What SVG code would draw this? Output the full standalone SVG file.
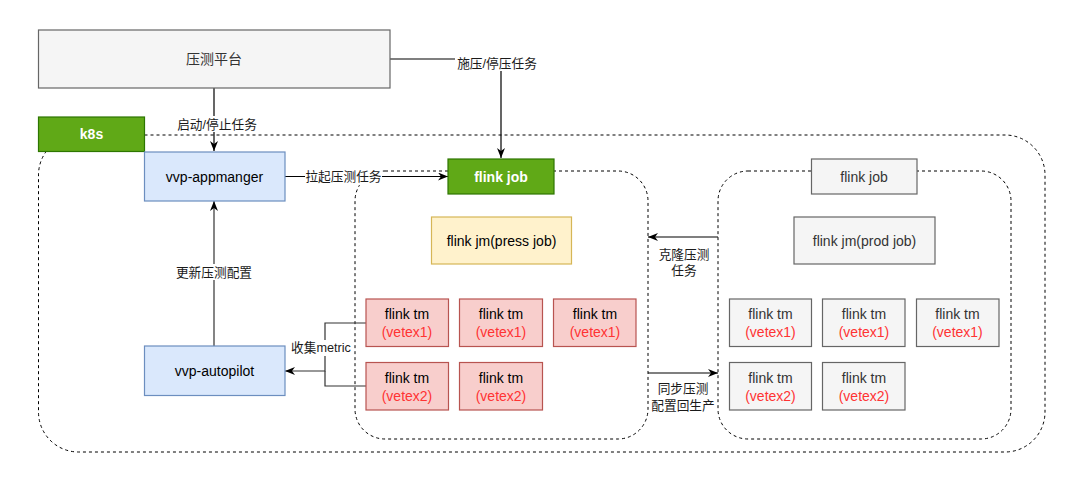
<svg xmlns="http://www.w3.org/2000/svg" width="1080" height="478" viewBox="0 0 1080 478">
<defs>
<style>
text{font-family:"Liberation Sans",Arial,"Noto Sans CJK SC",sans-serif;font-size:14px;text-anchor:middle;fill:#000}
.lbl{font-size:12.7px;fill:#1a1a1a}
.gray{fill:#f5f5f5;stroke:#666666;stroke-width:1.2}
.blue{fill:#dae8fc;stroke:#6c8ebf;stroke-width:1.2}
.green{fill:#60a917;stroke:#2d7600;stroke-width:1.2}
.yellow{fill:#fff2cc;stroke:#d6b656;stroke-width:1.2}
.red{fill:#f8cecc;stroke:#b85450;stroke-width:1.2}
.cont{fill:none;stroke:#000;stroke-width:1;stroke-dasharray:3 3}
.w{fill:#ffffff}
.b{font-weight:bold}
.r{fill:#ff3333}
.d{fill:#333333}
.edge{fill:none;stroke:#000;stroke-width:1.2}
.edge2{fill:none;stroke:#333;stroke-width:1.2}
</style>
<marker id="arr" viewBox="0 0 10 8" refX="10" refY="4" markerWidth="10" markerHeight="8" markerUnits="userSpaceOnUse" orient="auto">
<path d="M0,0 L10,4 L0,8 L3,4 z" fill="#000"/>
</marker>
</defs>
<rect width="1080" height="478" fill="#ffffff"/>

<g id="containers">
<rect id="k8s-container" class="cont" x="38.5" y="135" width="1006.5" height="317" rx="40"/>
<rect id="press-container" class="cont" x="355" y="171" width="293" height="268" rx="30"/>
<rect id="prod-container" class="cont" x="718" y="171" width="293" height="268" rx="30"/>
</g>

<g id="connectors">
<path class="edge" d="M214,88 V151" marker-end="url(#arr)"/>
<path class="edge" d="M390,59 H501 V158" marker-end="url(#arr)"/>
<path class="edge" d="M285,176.5 H448" marker-end="url(#arr)"/>
<path class="edge2" d="M214,346 V201" marker-end="url(#arr)"/>
<path class="edge2" d="M366,323 H325 V371 H285" marker-end="url(#arr)"/>
<path class="edge2" d="M366,386 H325 V371"/>
<path class="edge" d="M718,237 H648" marker-end="url(#arr)"/>
<path class="edge" d="M648,373 H718" marker-end="url(#arr)"/>
<rect class="w" x="175" y="116" width="84" height="16"/>
<text class="lbl" x="217" y="128.5">启动/停止任务</text>
<rect class="w" x="455" y="55" width="84" height="16"/>
<text class="lbl" x="497" y="67.5">施压/停压任务</text>
<rect class="w" x="305" y="169" width="77" height="16"/>
<text class="lbl" x="343.5" y="181">拉起压测任务</text>
<rect class="w" x="175" y="264" width="79" height="16"/>
<text class="lbl" x="214" y="276.5">更新压测配置</text>
<rect class="w" x="291" y="340" width="61" height="16"/>
<text class="lbl" x="321" y="352">收集metric</text>
<text class="lbl" x="684" y="258.5">克隆压测</text>
<text class="lbl" x="684" y="274.5">任务</text>
<text class="lbl" x="683" y="392.5">同步压测</text>
<text class="lbl" x="683" y="409.5">配置回生产</text>
</g>

<g id="press-platform"><rect class="gray" x="38.5" y="30" width="351.5" height="58"/><text class="d" x="214" y="64">压测平台</text></g>
<g id="k8s"><rect class="green" x="38.5" y="117" width="106" height="34.5"/><text class="w b" x="91.5" y="139">k8s</text></g>
<g id="vvp-appmanger"><rect class="blue" x="144.5" y="152" width="140.5" height="49"/><text x="214.5" y="181.5">vvp-appmanger</text></g>
<g id="vvp-autopilot"><rect class="blue" x="144.5" y="346" width="140.5" height="49.5"/><text x="214.5" y="376">vvp-autopilot</text></g>

<g id="flink-job-press"><rect class="green" x="448" y="159" width="106" height="35"/><text class="w b" x="501" y="181.5">flink job</text></g>
<g id="flink-jm-press"><rect class="yellow" x="431.5" y="217" width="140" height="47"/><text x="501.5" y="245.5">flink jm(press job)</text></g>
<g id="tm-p1"><rect class="red" x="366" y="299" width="82.5" height="47.5"/><text x="407" y="319">flink tm</text><text class="r" x="407" y="337">(vetex1)</text></g>
<g id="tm-p2"><rect class="red" x="459.5" y="299" width="83" height="47.5"/><text x="501" y="319">flink tm</text><text class="r" x="501" y="337">(vetex1)</text></g>
<g id="tm-p3"><rect class="red" x="553.5" y="299" width="82.5" height="47.5"/><text x="595" y="319">flink tm</text><text class="r" x="595" y="337">(vetex1)</text></g>
<g id="tm-p4"><rect class="red" x="366" y="362.5" width="82.5" height="47.5"/><text x="407" y="382.5">flink tm</text><text class="r" x="407" y="400.5">(vetex2)</text></g>
<g id="tm-p5"><rect class="red" x="459.5" y="362.5" width="83" height="47.5"/><text x="501" y="382.5">flink tm</text><text class="r" x="501" y="400.5">(vetex2)</text></g>

<g id="flink-job-prod"><rect class="gray" x="811.5" y="159" width="105.5" height="35"/><text class="d" x="864" y="181.5">flink job</text></g>
<g id="flink-jm-prod"><rect class="gray" x="794" y="217" width="141" height="47"/><text class="d" x="864.5" y="245.5">flink jm(prod job)</text></g>
<g id="tm-q1"><rect class="gray" x="729.5" y="299" width="82" height="47.5"/><text class="d" x="770.5" y="319">flink tm</text><text class="r" x="770.5" y="337">(vetex1)</text></g>
<g id="tm-q2"><rect class="gray" x="822.5" y="299" width="82.5" height="47.5"/><text class="d" x="864" y="319">flink tm</text><text class="r" x="864" y="337">(vetex1)</text></g>
<g id="tm-q3"><rect class="gray" x="916.5" y="299" width="82.5" height="47.5"/><text class="d" x="957.5" y="319">flink tm</text><text class="r" x="957.5" y="337">(vetex1)</text></g>
<g id="tm-q4"><rect class="gray" x="729.5" y="362.5" width="82" height="47.5"/><text class="d" x="770.5" y="382.5">flink tm</text><text class="r" x="770.5" y="400.5">(vetex2)</text></g>
<g id="tm-q5"><rect class="gray" x="822.5" y="362.5" width="82.5" height="47.5"/><text class="d" x="864" y="382.5">flink tm</text><text class="r" x="864" y="400.5">(vetex2)</text></g>
</svg>
